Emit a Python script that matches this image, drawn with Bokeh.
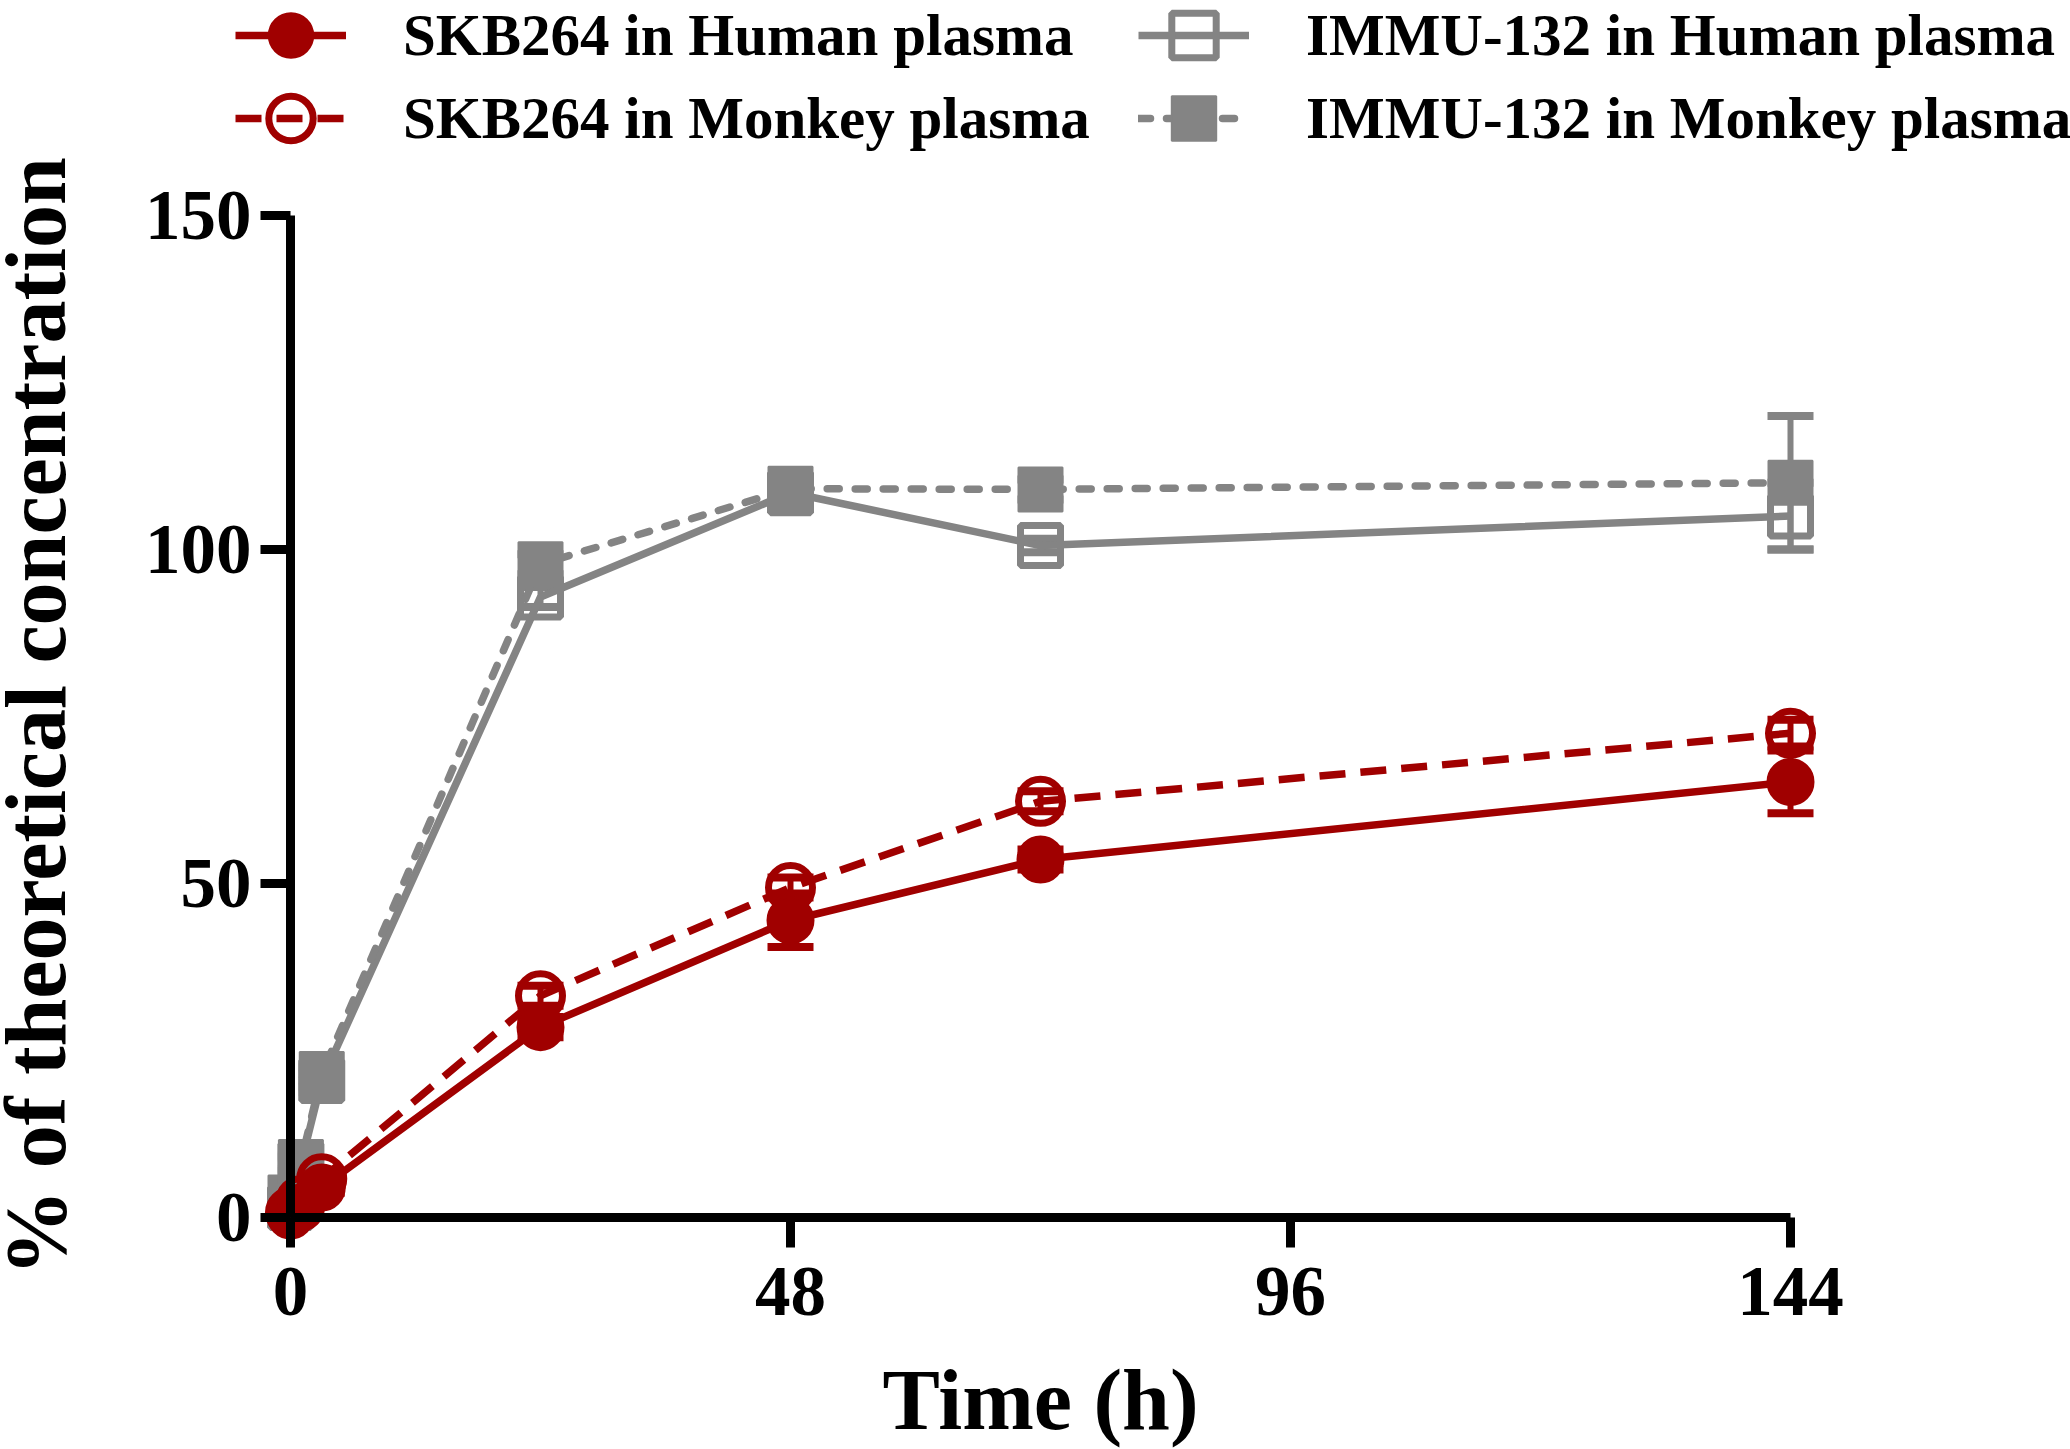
from bokeh.plotting import figure
from bokeh.models import (LinearAxis, FixedTicker, Range1d, Legend, LegendItem,
                          Whisker, ColumnDataSource, TeeHead)
from bokeh.embed import file_html
from bokeh.resources import INLINE

# ---- data ----
time_h = [0, 1, 3, 24, 48, 72, 144]
skb_human = [0.3, 1.5, 4.5, 28.5, 44.5, 53.6, 65.2]
skb_human_sd = [0.3, 0.5, 0.8, 1.5, 4.0, 1.5, 4.7]
skb_monkey = [0.8, 2.5, 5.8, 33.2, 49.4, 62.3, 72.5]
skb_monkey_sd = [0.3, 0.5, 0.8, 1.5, 1.5, 1.5, 2.0]
immu_human = [1.5, 8.0, 20.5, 92.9, 108.5, 100.6, 105.0]
immu_human_sd = [0.5, 1.0, 1.0, 1.5, 1.0, 1.0, 5.0]
immu_monkey = [3.0, 8.3, 21.5, 97.8, 109.1, 109.0, 110.0]
immu_monkey_sd = [0.5, 1.0, 1.0, 1.5, 1.0, 1.5, 10.0]

x_ticks = [0, 48, 96, 144]
y_ticks = [0, 50, 100, 150]
labels = ["SKB264 in Human plasma", "SKB264 in Monkey plasma",
          "IMMU-132 in Human plasma", "IMMU-132 in Monkey plasma"]

RED = "#a00000"
GRAY = "#848484"
FONT = "Liberation Serif"

W, H = 2070, 1449
p = figure(width=W, height=H,
           x_range=Range1d(-27.84, 170.88), y_range=Range1d(-34.73, 182.19),
           x_axis_type=None, y_axis_type=None,
           toolbar_location=None, output_backend="svg",
           min_border_left=0, min_border_right=0,
           min_border_top=0, min_border_bottom=0)
p.outline_line_color = None
p.background_fill_color = "white"
p.border_fill_color = "white"


def style_axis(ax):
    ax.axis_line_width = 9
    ax.axis_line_color = "black"
    ax.major_tick_line_width = 9
    ax.major_tick_line_color = "black"
    ax.major_tick_out = 30
    ax.major_tick_in = 0
    ax.minor_tick_line_color = None
    ax.major_label_text_font = FONT
    ax.major_label_text_font_style = "bold"
    ax.major_label_text_font_size = "71px"
    ax.major_label_text_color = "black"
    ax.axis_label_text_font = FONT
    ax.axis_label_text_font_style = "bold"
    ax.axis_label_text_color = "black"


xaxis = LinearAxis(ticker=FixedTicker(ticks=x_ticks), fixed_location=0,
                   bounds=(0, 144), axis_label="Time (h)")
style_axis(xaxis)
xaxis.major_label_standoff = 20
xaxis.axis_label_text_font_size = "86px"
xaxis.axis_label_standoff = 34
p.add_layout(xaxis, "below")

yaxis = LinearAxis(ticker=FixedTicker(ticks=y_ticks), fixed_location=0,
                   bounds=(0, 150), axis_label="% of theoretical concentration")
style_axis(yaxis)
yaxis.major_label_standoff = 9
yaxis.axis_label_text_font_size = "86px"
yaxis.axis_label_standoff = 58
p.add_layout(yaxis, "left")


def add_series(y, sd, color, dash, marker, filled, cap):
    src = ColumnDataSource(dict(x=time_h, y=y,
                                lo=[a - b for a, b in zip(y, sd)],
                                hi=[a + b for a, b in zip(y, sd)]))
    ln = p.line("x", "y", source=src, line_color=color, line_width=7.5,
                line_dash=dash, line_cap=cap)
    w = Whisker(source=src, base="x", upper="hi", lower="lo",
                line_color=color, line_width=6,
                upper_head=TeeHead(size=46, line_color=color, line_width=8),
                lower_head=TeeHead(size=46, line_color=color, line_width=8))
    p.add_layout(w)
    if filled:
        sc = p.scatter("x", "y", source=src, marker=marker,
                       size=46 if marker == "circle" else 44,
                       fill_color=color, line_color=color, line_width=2)
    else:
        sc = p.scatter("x", "y", source=src, marker=marker,
                       size=44 if marker == "circle" else 40,
                       fill_color=None, line_color=color, line_width=7)
    return [ln, sc]


r_ih = add_series(immu_human, immu_human_sd, GRAY, "solid", "square", False, "butt")
r_im = add_series(immu_monkey, immu_monkey_sd, GRAY, "12 16", "square", True, "round")
r_sm = add_series(skb_monkey, skb_monkey_sd, RED, "26 15", "circle", False, "butt")
r_sh = add_series(skb_human, skb_human_sd, RED, "solid", "circle", True, "butt")


def make_legend(items, loc):
    lg = Legend(items=items, orientation="horizontal", location=loc,
                glyph_width=111, glyph_height=118, spacing=0,
                label_standoff=57, label_width=735, padding=0, margin=0,
                label_text_font=FONT, label_text_font_style="bold",
                label_text_font_size="59px", label_text_color="black",
                border_line_color=None, background_fill_alpha=0)
    p.add_layout(lg, "center")


make_legend([LegendItem(label=labels[0], renderers=r_sh),
             LegendItem(label=labels[2], renderers=r_ih)], (235, 1355))
make_legend([LegendItem(label=labels[1], renderers=r_sm),
             LegendItem(label=labels[3], renderers=r_im)], (235, 1272))

open("out.html", "w").write(file_html(p, INLINE))
